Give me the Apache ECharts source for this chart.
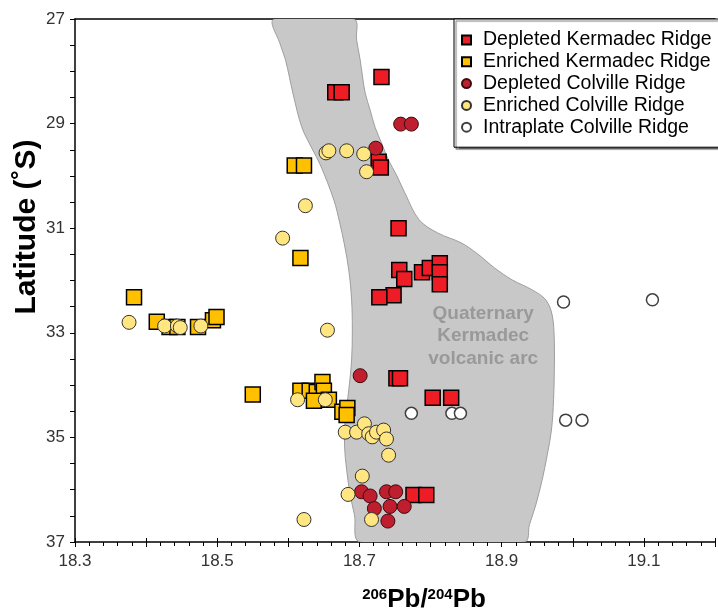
<!DOCTYPE html>
<html>
<head>
<meta charset="utf-8">
<script src="https://cdn.jsdelivr.net/npm/echarts@6/dist/echarts.min.js"></script>
<style>
  html, body { margin: 0; padding: 0; background: #fff; }
  #chart { width: 718px; height: 613px; }
</style>
</head>
<body>
<div id="chart"></div>
<script>
// 206Pb/204Pb against latitude for Kermadec and Colville Ridge lavas
const FONT = '"Liberation Sans", Arial, sans-serif';

const seriesNames = [
  'Depleted Kermadec Ridge',
  'Enriched Kermadec Ridge',
  'Depleted Colville Ridge',
  'Enriched Colville Ridge',
  'Intraplate Colville Ridge'
];

// [206Pb/204Pb, latitude °S]
const depletedKermadec = [
  [18.731, 28.11], [18.666, 28.40], [18.675, 28.40], [18.727, 29.73], [18.730, 29.84],
  [18.755, 31.00], [18.756, 31.80], [18.763, 31.97], [18.788, 31.84], [18.799, 31.76],
  [18.813, 31.67], [18.813, 31.84], [18.813, 32.07], [18.748, 32.28], [18.728, 32.32],
  [18.752, 33.87], [18.757, 33.87], [18.803, 34.24], [18.829, 34.24], [18.776, 36.10],
  [18.794, 36.10]
];
const enrichedKermadec = [
  [18.609, 29.80], [18.622, 29.80], [18.617, 31.57], [18.383, 32.32], [18.415, 32.79],
  [18.433, 32.89], [18.444, 32.89], [18.473, 32.89], [18.494, 32.76], [18.499, 32.70],
  [18.550, 34.18], [18.617, 34.11], [18.630, 34.11], [18.640, 34.13], [18.648, 33.94],
  [18.650, 34.11], [18.636, 34.30], [18.657, 34.28], [18.676, 34.51], [18.683, 34.44],
  [18.682, 34.57]
];
const depletedColville = [
  [18.758, 29.01], [18.773, 29.01], [18.723, 29.47], [18.701, 33.82], [18.703, 36.04],
  [18.715, 36.12], [18.721, 36.36], [18.738, 36.04], [18.751, 36.04], [18.743, 36.32],
  [18.763, 36.32], [18.740, 36.60]
];
const enrichedColville = [
  [18.653, 29.56], [18.657, 29.52], [18.682, 29.52], [18.706, 29.58], [18.710, 29.92],
  [18.624, 30.57], [18.592, 31.19], [18.655, 32.95], [18.376, 32.80], [18.426, 32.87],
  [18.444, 32.87], [18.448, 32.90], [18.477, 32.87], [18.613, 34.28], [18.652, 34.28],
  [18.680, 34.90], [18.696, 34.90], [18.707, 34.74], [18.713, 34.93], [18.718, 34.99],
  [18.724, 34.90], [18.734, 34.86], [18.738, 35.03], [18.741, 35.34], [18.704, 35.74],
  [18.684, 36.09], [18.717, 36.57], [18.622, 36.57]
];
const intraplateColville = [
  [18.987, 32.41], [19.112, 32.37], [18.773, 34.54], [18.830, 34.54], [18.842, 34.54],
  [18.990, 34.67], [19.013, 34.67]
];

// Outline of the Quaternary Kermadec arc field (west edge north→south, then east edge south→north)
const arcOutline = [
  [18.580, 27.00], [18.589, 27.50], [18.596, 27.78], [18.607, 28.45], [18.619, 29.07],
  [18.633, 29.47], [18.645, 29.79], [18.664, 30.46], [18.672, 30.88], [18.679, 31.32],
  [18.685, 31.80], [18.689, 32.37], [18.690, 32.95], [18.689, 33.52], [18.685, 34.09],
  [18.680, 34.67], [18.679, 35.15], [18.682, 35.62], [18.687, 36.10], [18.693, 36.48],
  [18.701, 37.00],
  [18.932, 37.00], [18.939, 36.67], [18.948, 36.29], [18.957, 35.81], [18.964, 35.34],
  [18.970, 34.86], [18.973, 34.28], [18.974, 33.71], [18.974, 33.14], [18.971, 32.66],
  [18.962, 32.37], [18.943, 32.18], [18.915, 31.99], [18.890, 31.76], [18.866, 31.49],
  [18.843, 31.28], [18.810, 31.09], [18.784, 30.84], [18.764, 30.33], [18.752, 29.98],
  [18.741, 29.70], [18.731, 29.37], [18.722, 29.07], [18.715, 28.74], [18.708, 28.41],
  [18.704, 28.07], [18.701, 27.78], [18.696, 27.40], [18.692, 27.00]
];
const arcLabel = 'Quaternary\nKermadec\nvolcanic arc';
const arcLabelAt = [18.874, 33.06];

const xMin = 18.3, xMax = 19.2, xStep = 0.1;
const yMin = 27, yMax = 37, yStep = 1;

const chart = echarts.init(document.getElementById('chart'), null, { renderer: 'canvas' });

function scatter(name, data, symbol, size, fill, border, bw) {
  return {
    name, type: 'scatter', data, symbol, symbolSize: size, z: 3,
    xAxisIndex: 0, yAxisIndex: 0,
    itemStyle: { color: fill, borderColor: border, borderWidth: bw, opacity: 1 },
    emphasis: { disabled: true }
  };
}

const option = {
  animation: false,
  backgroundColor: '#fff',
  textStyle: { fontFamily: FONT },
  grid: { left: 75, right: 0, top: 19, bottom: 71, containLabel: false },
  xAxis: [
    {
      type: 'value', min: xMin, max: xMax, interval: xStep, position: 'bottom',
      axisLine: { show: true, onZero: false, lineStyle: { color: '#000', width: 1.5 } },
      axisTick: { show: true, length: 5, lineStyle: { color: '#000', width: 1 } },
      minorTick: { show: true, splitNumber: 5, length: 4, lineStyle: { color: '#000', width: 1 } },
      splitLine: { show: false },
      axisLabel: {
        fontFamily: FONT, fontSize: 17, color: '#333', margin: 11,
        formatter: v => (Math.round(v * 10) % 2 === 1 ? v.toFixed(1) : '')
      }
    },
    {
      type: 'value', min: xMin, max: xMax, interval: xStep, position: 'bottom',
      axisLine: { show: false, onZero: false },
      axisTick: { show: true, inside: true, length: 4, lineStyle: { color: '#000', width: 1 } },
      axisLabel: { show: false }, splitLine: { show: false }
    },
    {
      type: 'value', min: xMin, max: xMax, position: 'top',
      axisLine: { show: true, onZero: false, lineStyle: { color: '#000', width: 1.5 } },
      axisTick: { show: false }, axisLabel: { show: false }, splitLine: { show: false }
    }
  ],
  yAxis: {
    type: 'value', inverse: true, min: yMin, max: yMax, interval: yStep,
    axisLine: { show: true, onZero: false, lineStyle: { color: '#000', width: 1.5 } },
    axisTick: { show: true, length: 5, lineStyle: { color: '#000', width: 1 } },
    minorTick: { show: true, splitNumber: 2, length: 5, lineStyle: { color: '#000', width: 1 } },
    splitLine: { show: false },
    axisLabel: {
      fontFamily: FONT, fontSize: 17, color: '#333', margin: 10,
      formatter: v => (Math.round(v) % 2 === 1 ? String(v) : '')
    }
  },
  legend: {
    orient: 'vertical', left: 454, top: 19,
    backgroundColor: '#fff', borderColor: '#000', borderWidth: 1,
    shadowColor: 'rgba(0,0,0,0.55)', shadowOffsetX: 2, shadowOffsetY: 2, shadowBlur: 1,
    padding: [11, 40, 10, 7],
    itemWidth: 9, itemHeight: 9, itemGap: 1.8,
    selectedMode: false,
    textStyle: { fontFamily: FONT, fontSize: 19.5, lineHeight: 20, color: '#000', padding: [0, 0, 0, 7] },
    data: seriesNames
  },
  graphic: [
    {
      type: 'text', x: 27, y: 227, rotation: Math.PI / 2,
      style: {
        text: 'Latitude (˚S)', font: 'bold 30px ' + FONT, fill: '#000',
        textAlign: 'center', textVerticalAlign: 'middle'
      }
    },
    {
      type: 'text', x: 424, y: 600,
      style: {
        text: '{s|206}{b|Pb/}{s|204}{b|Pb}',
        textAlign: 'center', textVerticalAlign: 'middle', fill: '#000',
        rich: {
          b: { font: 'bold 26px ' + FONT, fill: '#000', lineHeight: 26 },
          s: { font: 'bold 15px ' + FONT, fill: '#000', lineHeight: 26, verticalAlign: 'top', padding: [0, 0, 9, 0] }
        }
      }
    }
  ],
  series: [
    {
      type: 'custom', name: 'arc', silent: true, z: 1, clip: true,
      xAxisIndex: 0, yAxisIndex: 0,
      data: [arcLabelAt],
      renderItem: (params, api) => {
        const pts = arcOutline.map(p => api.coord(p));
        const c = api.coord(arcLabelAt);
        return {
          type: 'group',
          children: [
            {
              type: 'polygon', shape: { points: pts, smooth: 0.35 },
              style: { fill: '#c8c8c8', stroke: '#9e9e9e', lineWidth: 1 }
            },
            {
              type: 'text', x: c[0], y: c[1],
              style: {
                text: arcLabel, font: 'bold 19px ' + FONT, fill: '#999999',
                textAlign: 'center', textVerticalAlign: 'middle', lineHeight: 22.5
              }
            }
          ]
        };
      }
    },
    scatter(seriesNames[0], depletedKermadec, 'rect', 15, '#ee1c24', '#000', 1.5),
    scatter(seriesNames[1], enrichedKermadec, 'rect', 15, '#ffc000', '#000', 1.5),
    scatter(seriesNames[2], depletedColville, 'circle', 14, '#be1e2d', '#3b0b0e', 1),
    scatter(seriesNames[3], enrichedColville, 'circle', 14, '#ffe680', '#333', 1),
    scatter(seriesNames[4], intraplateColville, 'circle', 12, '#ffffff', '#404040', 1.5)
  ]
};

chart.setOption(option);
</script>
</body>
</html>
